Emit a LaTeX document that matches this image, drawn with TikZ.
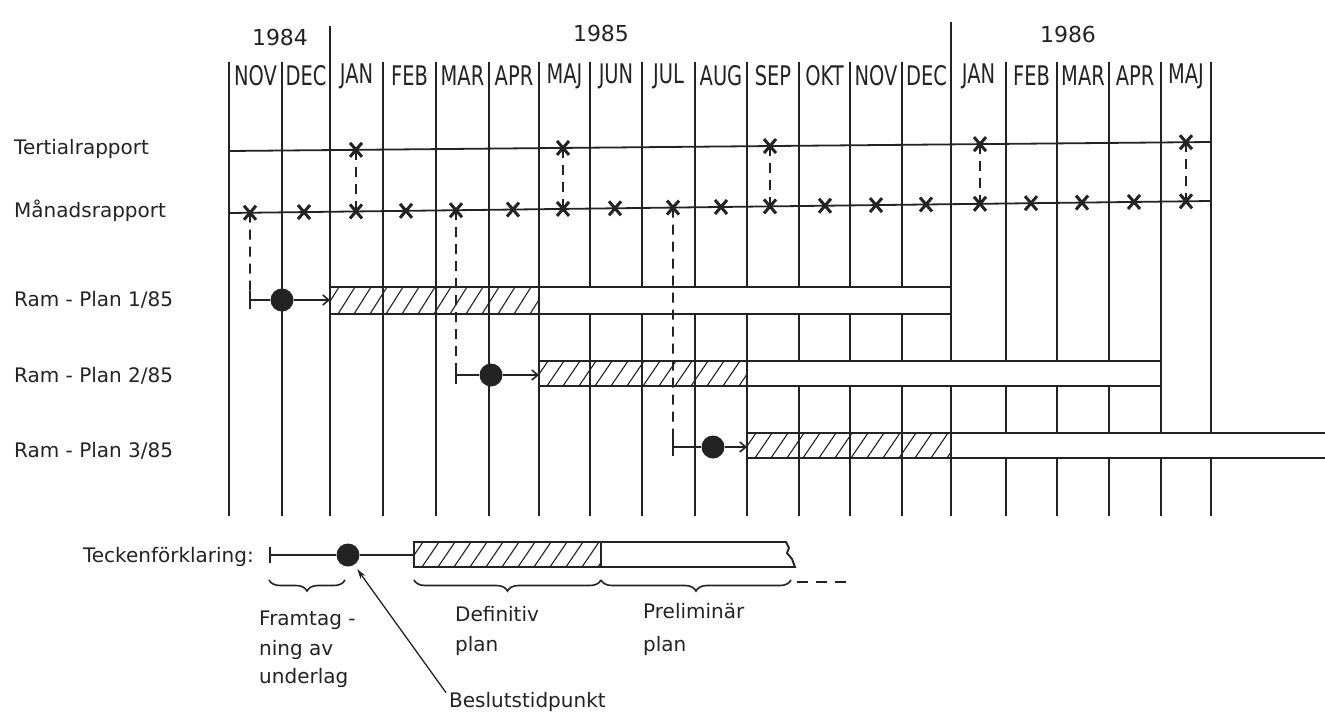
\documentclass[tikz,border=0pt]{standalone}
\usepackage{fontspec}
\setmainfont{DejaVu Sans}
\newfontfamily\condfont{DejaVu Sans}[FakeStretch=0.72]
\usetikzlibrary{arrows.meta,decorations.pathreplacing,calc}
\definecolor{ink}{RGB}{35,35,35}
\newcommand\hatchpart[4]{% x1 x2 top bottom
  \begin{scope}
    \clip (#1,#3) rectangle (#2,#4);
    \pgfmathsetmacro\hsA{#1-24}\pgfmathsetmacro\hsB{#1-8}
    \foreach \k in {\hsA,\hsB,...,#2}{\draw[hatch] (\k,#4) -- ++(17,#3-#4);}
  \end{scope}}
\begin{document}
\begin{tikzpicture}[x=1pt,y=-1pt, color=ink,
  grid/.style={line width=1.4pt},
  rline/.style={line width=1.8pt},
  xmark/.style={line width=3pt},
  dsh/.style={line width=1.8pt, dash pattern=on 10pt off 7pt},
  barline/.style={line width=1.9pt},
  hatch/.style={line width=1.1pt},
  brc/.style={line width=1.6pt, decorate, decoration={brace, mirror, amplitude=11pt}},
  dotn/.style={circle, fill=ink, draw=none, inner sep=0pt, minimum size=23pt},
  lbl/.style={font=\fontsize{20}{24}\selectfont, anchor=west, inner sep=0pt},
  mon/.style={font=\condfont\fontsize{27}{30}\selectfont, inner sep=0pt},
  yr/.style={font=\fontsize{22}{26}\selectfont, inner sep=0pt},
  leg/.style={font=\fontsize{20}{24}\selectfont, inner sep=0pt, anchor=base west},
  arr/.style={line width=1.6pt, -{Straight Barb[length=6pt,width=10pt]}},
  xm/.pic={\draw[xmark] (-6,-7)--(6,7) (-6,7)--(6,-7);}
]
\useasboundingbox (0,0) rectangle (1325,712);

% month boundaries
\foreach \x [count=\i from 0] in {229,282,330,383,436,489,539,590,642,695,747,799,850,902,951,1006,1057,1109,1161,1211}
  \coordinate (b\i) at (\x,62);
\foreach \i in {0,1,3,4,5,6,7,8,9,10,11,12,13,15,16,17,18,19}
  \draw[grid] (b\i) -- ++(0,454);
\draw[grid] (330,26) -- (330,516);
\draw[grid] (951,22) -- (951,516);

% year labels
\node[yr] (y84) at (280,37) {1984};
\node[yr] (y85) at (601,33) {1985};
\node[yr] (y86) at (1068,34) {1986};

% month labels
\foreach \c/\m [count=\i] in {255.5/NOV,306/DEC,356.5/JAN,409.5/FEB,462.5/MAR,514/APR,564.5/MAJ,616/JUN,668.5/JUL,721/AUG,773/SEP,824.5/OKT,876/NOV,926.5/DEC,978.5/JAN,1031.5/FEB,1083/MAR,1135/APR,1186/MAJ}
  \node[mon] (mn\i) at (\c,76) {\m};

% row labels
\node[lbl] (tert) at (14,149) {Tertialrapport};
\node[lbl] (mand) at (14,211) {Månadsrapport};
\node[lbl] (rp1) at (14,300) {Ram - Plan 1/85};
\node[lbl] (rp2) at (14,376) {Ram - Plan 2/85};
\node[lbl] (rp3) at (14,451) {Ram - Plan 3/85};

% bars (white parts cover grid)
\fill[white] (330,287) rectangle (951,314);
\fill[white] (539,361) rectangle (1161,386);
\fill[white] (747,433) rectangle (1330,458);
% grid through hatched parts
\foreach \x in {383,436,489} \draw[grid] (\x,287) -- (\x,314);
\foreach \x in {590,642,695} \draw[grid] (\x,361) -- (\x,386);
\foreach \x in {799,850,902} \draw[grid] (\x,433) -- (\x,458);
\hatchpart{330}{539}{287}{314}
\hatchpart{539}{747}{361}{386}
\hatchpart{747}{951}{433}{458}
\draw[barline] (330,287) rectangle (951,314);
\draw[barline] (539,287) -- (539,314);
\draw[barline] (539,361) rectangle (1161,386);
\draw[barline] (747,361) -- (747,386);
\draw[barline] (1330,433) -- (747,433) -- (747,458) -- (1330,458);
\draw[barline] (951,433) -- (951,458);
\coordinate (B1w) at (330,300);
\coordinate (B2w) at (539,375);
\coordinate (B3w) at (747,447);

% report lines
\coordinate (TL) at (229,151); \coordinate (TR) at (1211,142);
\coordinate (ML) at (229,213); \coordinate (MR) at (1211,201);
\draw[rline] (TL) -- (TR);
\draw[rline] (ML) -- (MR);
\foreach \x [count=\i] in {250,304,356,406,456,513,563,615,673,721,770,825,876,926,980,1031,1082,1134,1186}
  {\coordinate (m\i) at ($(ML)!{(\x-229)/982}!(MR)$); \pic at (m\i) {xm};}
\foreach \x [count=\i] in {356,563,770,980,1186}
  {\coordinate (t\i) at ($(TL)!{(\x-229)/982}!(TR)$); \pic at (t\i) {xm};}
\draw[dsh] (t1) -- (m3);
\draw[dsh] (t2) -- (m7);
\draw[dsh] (t3) -- (m11);
\draw[dsh] (t4) -- (m15);
\draw[dsh] (t5) -- (m19);

% plan rows
\coordinate (r1s) at (250,300);
\coordinate (r2s) at (456,375);
\coordinate (r3s) at (673,447);
\draw[dsh] (m1) -- (r1s);
\draw[dsh] (m5) -- (r2s);
\draw[dsh] (m9) -- (r3s);
\foreach \r in {r1s,r2s,r3s} \draw[barline] ($(\r)+(0,-9)$) -- ($(\r)+(0,9)$);
\node[dotn] (d1) at (282,300) {};
\node[dotn] (d2) at (491,375) {};
\node[dotn] (d3) at (713,447) {};
\draw[rline] (r1s) -- (d1);
\draw[rline] (r2s) -- (d2);
\draw[rline] (r3s) -- (d3);
\draw[arr] (d1) -- (B1w);
\draw[arr] (d2) -- (B2w);
\draw[arr] (d3) -- (B3w);

% legend
\node[font=\fontsize{20}{24}\selectfont, inner sep=0pt, anchor=east] (teck) at (254,557) {Teckenförklaring:};
\coordinate (ls) at (270,555);
\draw[barline] ($(ls)+(0,-8)$) -- ($(ls)+(0,8)$);
\node[dotn] (ldot) at (348,555) {};
\coordinate (lbw) at (414,555);
\draw[rline] (ls) -- (ldot);
\draw[rline] (ldot) -- (lbw);
\fill[white] (414,542) rectangle (601,567);
\hatchpart{414}{601}{542}{567}
\draw[barline] (601,542) -- (414,542) -- (414,567) -- (601,567) -- cycle;
\draw[barline] (601,542) -- (786,542) -- (789,548) -- (787,553) -- (792,559) -- (795,567) -- (601,567);
\draw[brc] (269,580) -- (345,580);
\draw[brc] (414,580) -- (601,580);
\draw[brc] (601,580) -- (791,580);
\coordinate (dtail) at (848,582);
\draw[line width=1.5pt, dash pattern=on 11pt off 8pt] (797,582) -- (dtail);
\node[leg] (fram1) at (259,625) {Framtag -};
\node[leg] (fram2) at (259,655) {ning av};
\node[leg] (fram3) at (259,683) {underlag};
\node[leg] (defi1) at (455,621) {Definitiv};
\node[leg] (defi2) at (455,651) {plan};
\node[leg] (prel1) at (643,618) {Preliminär};
\node[leg] (prel2) at (643,651) {plan};
\node[leg] (besl) at (449,707) {Beslutstidpunkt};
\draw[line width=1.3pt, -{Stealth[length=10pt,width=6pt]}] ($(besl.north west)+(-3,1)$) -- ($(ldot.south east)+(1,6)$);
\end{tikzpicture}
\end{document}
